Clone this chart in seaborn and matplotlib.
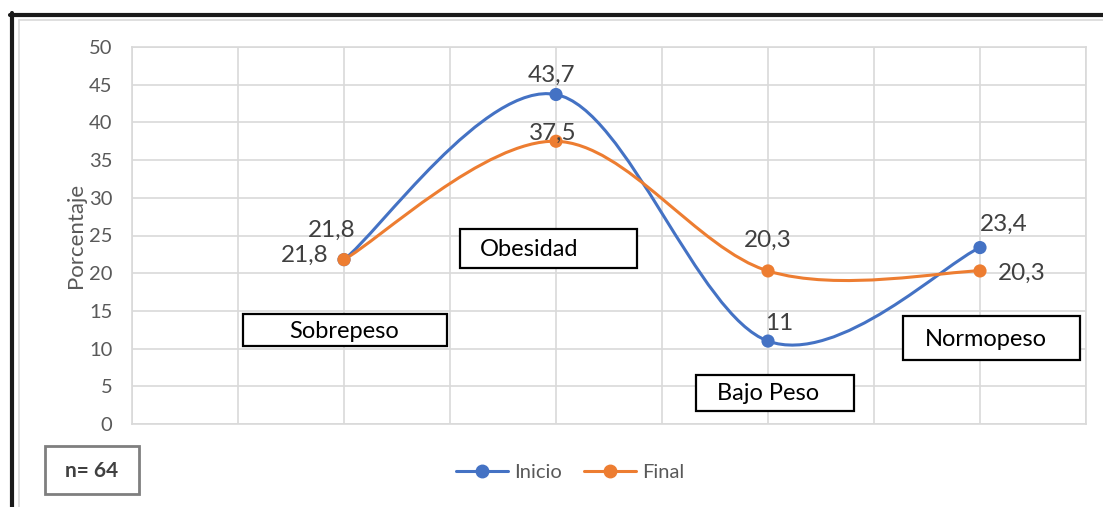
import numpy as np
import pandas as pd
import seaborn as sns
import matplotlib.pyplot as plt
from matplotlib.path import Path
from matplotlib.patches import PathPatch, Rectangle
from matplotlib.lines import Line2D

# data
categorias = ["Sobrepeso", "Obesidad", "Bajo Peso", "Normopeso"]
x_pos = [2, 4, 6, 8]
inicio = [21.8, 43.7, 11.0, 23.4]
final = [21.8, 37.5, 20.3, 20.3]
inicio_lbl = ["21,8", "43,7", "11", "23,4"]
final_lbl = ["21,8", "37,5", "20,3", "20,3"]
n_txt = "n= 64"

BLUE, ORANGE = "#4472C4", "#ED7D31"
W, H = 1103, 507

sns.set_theme(style="white")
plt.rcParams["font.family"] = ["Lato", "DejaVu Sans"]

df = pd.DataFrame({
    "x": x_pos * 2,
    "y": inicio + final,
    "serie": ["Inicio"] * 4 + ["Final"] * 4,
})

fig = plt.figure(figsize=(W / 100, H / 100), dpi=100)
ax = fig.add_axes([132 / W, 1 - 424 / H, 954 / W, 377 / H])


def smooth_path(xs, ys):
    # excel-like smoothed line: cubic bezier through the points
    p = np.column_stack([xs, ys]).astype(float)
    ext = np.vstack([p[0], p, p[-1]])
    verts, codes = [tuple(p[0])], [Path.MOVETO]
    for i in range(len(p) - 1):
        p0, p1, p2, p3 = ext[i], ext[i + 1], ext[i + 2], ext[i + 3]
        c1 = p1 + (p2 - p0) / 6
        c2 = p2 - (p3 - p1) / 6
        verts += [tuple(c1), tuple(c2), tuple(p2)]
        codes += [Path.CURVE4] * 3
    return Path(verts, codes)


for ys, col in [(inicio, BLUE), (final, ORANGE)]:
    ax.add_patch(PathPatch(smooth_path(x_pos, ys), fc="none", ec=col, lw=2.2, zorder=3))

sns.scatterplot(data=df, x="x", y="y", hue="serie", palette=[BLUE, ORANGE],
                s=90, edgecolor="none", legend=False, ax=ax, zorder=4)

ax.set_xlim(0, 9)
ax.set_ylim(0, 50)
ax.set_xticks(range(10))
ax.set_xticklabels([])
ax.set_yticks(range(0, 51, 5))
ax.tick_params(axis="y", labelsize=14.5, labelcolor="#595959", length=0, pad=14)
ax.tick_params(axis="x", length=0)
ax.grid(True, color="#d9d9d9", lw=1.2)
for s in ax.spines.values():
    s.set_color("#d9d9d9")
    s.set_linewidth(1.2)
ax.set_xlabel("")
ax.set_ylabel("Porcentaje", fontsize=16, color="#595959", labelpad=2)

# data labels (offsets in points)
lbl_kw = dict(textcoords="offset points", fontsize=17.5, color="#404040",
              ha="center", va="center", zorder=5)
off_inicio = [(-9, 21), (-3, 14), (8, 13), (17, 17)]
off_final = [(-28, 3), (-2, 6), (0, 22), (30, -1.5)]
for xv, yv, t, o in zip(x_pos, inicio, inicio_lbl, off_inicio):
    ax.annotate(t, (xv, yv), xytext=o, **lbl_kw)
for xv, yv, t, o in zip(x_pos, final, final_lbl, off_final):
    ax.annotate(t, (xv, yv), xytext=o, **lbl_kw)


def fig_box(x0, y0, x1, y1, text, tx, ty, **kw):
    fig.add_artist(Rectangle((x0 / W, 1 - y1 / H), (x1 - x0) / W, (y1 - y0) / H,
                             transform=fig.transFigure, fill=True, fc="white",
                             ec=kw.pop("ec", "black"), lw=kw.pop("lw", 1.6), zorder=6))
    fig.text(tx / W, 1 - ty / H, text, ha="center", va="center",
             zorder=7, **kw)


# category boxes
box_px = [(243, 314, 447, 346, 344, 331), (460, 229, 637, 268, 529, 249),
          (696, 375, 854, 411, 768, 394), (903, 316, 1080, 360, 986, 340)]
for (x0, y0, x1, y1, tx, ty), cat in zip(box_px, categorias):
    fig_box(x0, y0, x1, y1, cat, tx, ty, fontsize=17, color="black")

fig_box(45, 446, 139, 494, n_txt, 92, 471, fontsize=15, color="#404040",
        fontweight="bold", ec="#7f7f7f", lw=2)

# legend
handles = [Line2D([], [], color=c, lw=2.2, marker="o", ms=9) for c in (BLUE, ORANGE)]
fig.legend(handles, ["Inicio", "Final"], loc="center", bbox_to_anchor=(570 / W, 1 - 472 / H),
           ncol=2, frameon=False, fontsize=14.5, labelcolor="#595959",
           handlelength=2.6, handletextpad=0.3, columnspacing=1.1)

# outer frame of the screenshot
fig.add_artist(Line2D([10 / W, 1], [1 - 14.5 / H] * 2, transform=fig.transFigure,
                      color="#1a1a1a", lw=3))
fig.add_artist(Line2D([11.5 / W] * 2, [1 - 13 / H, 0], transform=fig.transFigure,
                      color="#1a1a1a", lw=3))
fig.add_artist(Line2D([18.5 / W, 1], [1 - 20 / H] * 2, transform=fig.transFigure,
                      color="#d9d9d9", lw=1.2))
fig.add_artist(Line2D([18.5 / W] * 2, [1 - 20 / H, 0], transform=fig.transFigure,
                      color="#d9d9d9", lw=1.2))

fig.savefig("out.png", dpi=100)
